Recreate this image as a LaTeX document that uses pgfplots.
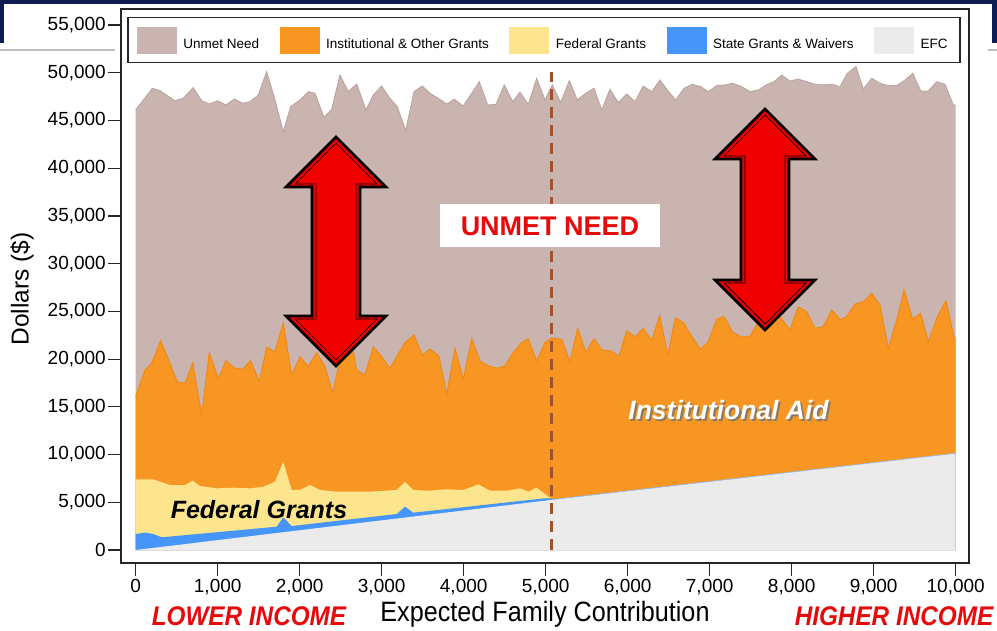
\documentclass[border=0pt]{standalone}
\usepackage{pgfplots}
\usepackage{pgfplotstable}
\pgfplotsset{compat=1.18}
\usepackage{fontspec}
\setmainfont{Liberation Sans}
\definecolor{unmet}{RGB}{201,180,176}
\definecolor{unmetedge}{RGB}{188,164,160}
\definecolor{inst}{RGB}{247,150,34}
\definecolor{instedge}{RGB}{240,136,18}
\definecolor{fed}{RGB}{252,229,140}
\definecolor{state}{RGB}{70,150,250}
\definecolor{efc}{RGB}{235,235,235}
\definecolor{dashc}{RGB}{160,82,45}
\definecolor{arrowred}{RGB}{240,0,0}
\definecolor{txtred}{RGB}{230,10,10}
\definecolor{navy}{RGB}{14,28,82}

\pgfplotstableread{
x y
0 46100
203 48370
296 48120
480 47070
580 47320
700 48440
805 47070
898 46730
1000 47070
1101 46620
1203 47250
1305 46800
1394 46970
1496 47670
1597 50110
1699 47150
1800 43820
1890 46450
2004 47150
2105 48020
2187 47850
2296 45330
2390 46170
2491 49760
2593 48020
2695 48820
2809 46100
2898 47670
3000 48610
3101 47320
3190 46450
3293 43930
3394 48020
3495 48610
3589 47850
3690 47320
3793 46730
3886 47220
3995 46520
4098 47850
4190 49060
4293 46620
4394 46690
4495 48720
4598 46970
4687 47960
4788 46690
4890 49410
4991 47150
5080 48720
5183 46870
5288 49170
5385 47150
5488 47850
5589 48370
5683 46100
5784 48260
5885 46870
5988 47780
6089 46970
6190 48610
6293 48020
6394 49240
6483 48190
6585 47150
6687 48370
6788 48790
6890 48540
6983 48020
7085 48650
7187 48720
7280 48900
7390 48540
7491 48020
7593 48190
7687 48720
7784 49060
7878 49760
7979 49130
8080 49340
8183 49060
8284 48790
8385 48720
8488 48790
8589 48540
8678 49940
8784 50640
8873 48300
8976 49410
9077 48900
9178 48650
9280 48650
9382 49240
9476 49940
9573 48090
9666 48090
9768 49060
9870 48790
9970 46620
10000 46600
}\unmettab

\pgfplotstableread{
x y
0 16060
113 18860
195 19560
305 21930
410 19730
507 17630
601 17460
695 19620
805 14140
898 20670
1007 17980
1101 19840
1211 19040
1305 18960
1402 19840
1507 17630
1597 21230
1699 20780
1800 23810
1902 18330
2004 20260
2105 19210
2207 20670
2309 19210
2402 16500
2492 19900
2654 20780
2695 18860
2796 18330
2898 21300
3000 20260
3101 19040
3284 21740
3394 22530
3495 20430
3589 21080
3699 20300
3793 16330
3894 21130
3995 17900
4098 22170
4199 19800
4300 19300
4402 19040
4504 19300
4605 20700
4707 21740
4788 22120
4890 19800
4991 21740
5073 22220
5195 22070
5296 19730
5390 23220
5491 20720
5589 22120
5690 20950
5793 20860
5894 20320
5988 22960
6089 22350
6190 23220
6293 21950
6390 24600
6490 20430
6582 24350
6683 23780
6784 22350
6886 21020
6983 21830
7085 24170
7174 24480
7280 22820
7380 22350
7487 22320
7583 23780
7720 24000
7856 24450
7979 23050
8080 25490
8183 24970
8284 23220
8385 23400
8488 25140
8589 24170
8671 24450
8772 25770
8873 26010
8976 26890
9077 25670
9178 21130
9280 24100
9370 27240
9476 24170
9573 24800
9666 21830
9776 24450
9882 26120
9983 22170
10000 22000
}\insttab

\pgfplotstableread{
x y
0 7400
215 7400
418 6810
601 6810
695 7260
784 6710
988 6460
1190 6530
1394 6460
1556 6630
1699 7150
1800 9250
1902 6290
2004 6290
2126 6810
2248 6290
2451 6110
2857 6110
3183 6290
3284 7150
3385 6290
3589 6210
3772 6360
3995 6290
4178 6880
4321 6210
4524 6210
4687 6460
4788 6110
4890 6530
5060 5420
}\fedtab

\pgfplotstableread{
x y
0 1680
113 1820
215 1680
317 1330
1719 2440
1800 3420
1902 2510
3183 3770
3284 4540
3385 3910
4991 5420
5060 5420
5100 5290
10000 10130
}\statetab

\pgfplotstableread{
x y
0 0
5070 5250
10000 10130
}\efctab

\pgfplotstableread{
x y
5070 5280
10000 10130
}\efcline

\newcommand{\dblarrow}[3]{%
 \filldraw[fill=arrowred, draw=black, line width=2.6pt, line join=miter]
  (#1,#2) -- (#1+50,#2+50) -- (#1+24,#2+50) -- (#1+24,#3-50) -- (#1+50,#3-50) -- (#1,#3) -- (#1-50,#3-50) -- (#1-24,#3-50) -- (#1-24,#2+50) -- (#1-50,#2+50) -- cycle;
 \draw[black, line width=0.7pt, line join=miter]
  (#1,#2+6) -- (#1+41,#2+47) -- (#1+20,#2+47) -- (#1+20,#3-47) -- (#1+41,#3-47) -- (#1,#3-6) -- (#1-41,#3-47) -- (#1-20,#3-47) -- (#1-20,#2+47) -- (#1-41,#2+47) -- cycle;
}

\begin{document}
\begin{tikzpicture}
\useasboundingbox (0pt,0pt) rectangle (997pt,-631pt);
\begin{scope}[x=1pt, y=-1pt]
\fill[navy] (0,0) rectangle (997,4);
\fill[navy] (0,0) rectangle (4,43);
\fill[navy] (992,0) rectangle (997,43);
\draw[black!25, line width=1.2pt] (0,50) -- (115,50);
\draw[black!25, line width=1.2pt] (988,50) -- (997,50);
\end{scope}
\begin{axis}[
 at={(121pt,-563pt)}, anchor=south west,
 width=848pt, height=554pt, scale only axis,
 xmin=-179, xmax=10162, ymin=-1362, ymax=56680,
 axis background/.style={fill=white},
 axis line style={line width=1.5pt, black!85},
 xtick={0,1000,...,10000}, ytick={0,5000,...,55000},
 tick align=outside, xtick pos=bottom, ytick pos=left,
 major tick length=13pt,
 tick style={line width=1.2pt, black!85},
 /pgf/number format/1000 sep={,},
 /pgf/number format/assume math mode=true,
 scaled ticks=false,
 ticklabel style={font=\fontsize{19}{19}\selectfont},
 yticklabel style={inner sep=2pt},
 xticklabel style={inner sep=3pt},
 legend style={at={(0.4988,0.9856)}, anchor=north, legend columns=5,
   draw=black!85, line width=1.3pt, font=\fontsize{13.5}{14}\selectfont,
   inner xsep=9pt, inner ysep=9pt,
   /tikz/every even column/.append style={column sep=17pt},
   nodes={inner sep=3.5pt},
   /tikz/every odd column/.append style={column sep=3pt}},
 legend cell align=left,
 legend image code/.code={\fill[#1] (0pt,-9pt) rectangle (40pt,18pt);},
]
\addplot[fill=unmet, draw=none] table {\unmettab} \closedcycle;
\addlegendentry{Unmet Need}
\addplot[unmetedge, line width=0.9pt, forget plot] table {\unmettab};
\addplot[fill=inst, draw=none] table {\insttab} \closedcycle;
\addlegendentry{Institutional \& Other Grants}
\addplot[instedge, line width=0.9pt, forget plot] table {\insttab};
\addplot[fill=fed, draw=none] table {\fedtab} \closedcycle;
\addlegendentry{Federal Grants}
\addplot[fill=state, draw=none] table {\statetab} \closedcycle;
\addlegendentry{State Grants \& Waivers}
\addplot[fill=efc, draw=none] table {\efctab} \closedcycle;
\addlegendentry{EFC}
\addplot[state!60, line width=0.6pt, forget plot] table {\efcline};
\addplot[dashc, line width=2.6pt, dash pattern=on 11pt off 7pt, forget plot] coordinates {(5070,0) (5070,50100)};
\end{axis}
\begin{scope}[x=1pt, y=-1pt]
\dblarrow{336}{137}{366}
\dblarrow{765}{109}{330}
\node[fill=white, minimum width=220pt, minimum height=43pt, inner sep=0pt] at (550,226)
  {\fontsize{27}{27}\selectfont\bfseries\color{txtred}UNMET NEED};
\node[text=black!55, opacity=0.8] at (730.5,412.5) {\fontsize{26.5}{27}\selectfont\bfseries\itshape Institutional Aid};
\node[text=white] at (728.5,410.5) {\fontsize{26.5}{27}\selectfont\bfseries\itshape Institutional Aid};
\node[text=black] at (259,510) {\fontsize{25}{25}\selectfont\bfseries\itshape Federal Grants};
\node[rotate=90] at (22,289) {\fontsize{24.5}{25}\selectfont Dollars (\$)};
\node at (545,614) {\scalebox{0.9}[1]{\fontsize{28}{28}\selectfont Expected Family Contribution}};
\node[text=txtred, inner sep=0pt] at (249,616) {\scalebox{0.9}[1]{\fontsize{27}{27}\selectfont\bfseries\itshape LOWER INCOME}};
\node[text=txtred, inner sep=0pt] at (894,616) {\scalebox{0.9}[1]{\fontsize{27}{27}\selectfont\bfseries\itshape HIGHER INCOME}};
\end{scope}
\end{tikzpicture}
\end{document}
